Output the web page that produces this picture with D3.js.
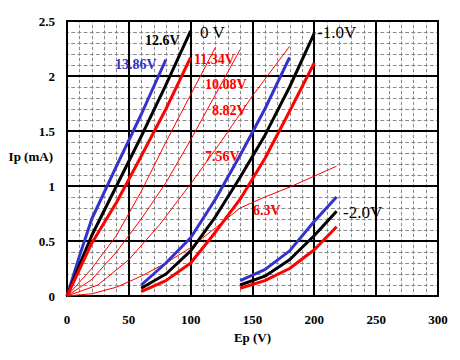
<!DOCTYPE html>
<html>
<head>
<meta charset="utf-8">
<script src="https://cdn.jsdelivr.net/npm/d3@7"></script>
<style>
  html, body { margin: 0; padding: 0; background: #fff; }
  svg { display: block; }
  text { font-family: "Liberation Serif", "Times New Roman", serif; }
</style>
</head>
<body>
<svg id="chart" width="460" height="360"></svg>
<script>
// ---- data ----
const xTicks = [0, 50, 100, 150, 200, 250, 300];
const yTicks = [0, 0.5, 1, 1.5, 2, 2.5];
const yTickLabels = ["0", "0.5", "1", "1.5", "2", "2.5"];

// grid bias 0 V
const ep0Blue = [0, 10, 20, 40, 60, 80];
const ip0Blue = [0, 0.36, 0.70, 1.18, 1.65, 2.15];
const ep0Black = [0, 10, 20, 40, 60, 80, 100];
const ip0Black = [0, 0.28, 0.55, 1.00, 1.45, 1.92, 2.41];
const ep0Red = [0, 10, 20, 40, 60, 80, 100];
const ip0Red = [0, 0.24, 0.48, 0.85, 1.27, 1.70, 2.17];

// grid bias -1.0 V
const ep1Blue = [60, 80, 100, 120, 140, 160, 180];
const ip1Blue = [0.10, 0.30, 0.53, 0.88, 1.28, 1.70, 2.17];
const ep1Black = [60, 80, 100, 120, 140, 160, 180, 200];
const ip1Black = [0.07, 0.20, 0.41, 0.72, 1.08, 1.46, 1.90, 2.39];
const ep1Red = [60, 80, 100, 120, 140, 160, 180, 200];
const ip1Red = [0.04, 0.14, 0.30, 0.58, 0.88, 1.25, 1.68, 2.12];

// grid bias -2.0 V
const ep2 = [140, 160, 180, 200, 218];
const ip2Blue = [0.14, 0.24, 0.41, 0.68, 0.90];
const ip2Black = [0.10, 0.18, 0.33, 0.55, 0.77];
const ip2Red = [0.07, 0.14, 0.25, 0.42, 0.63];

// reduced heater voltages, grid 0 V (thin red)
const epH1008 = [0, 20, 40, 60, 80, 100, 120];
const ipH1008 = [0, 0.25, 0.55, 0.95, 1.40, 1.83, 2.26];
const epH882 = [0, 20, 40, 60, 80, 100, 120, 140];
const ipH882 = [0, 0.15, 0.40, 0.70, 1.03, 1.42, 1.83, 2.24];
const epH756 = [0, 25, 50, 75, 100, 125, 150, 180];
const ipH756 = [0, 0.10, 0.33, 0.65, 1.02, 1.41, 1.82, 2.27];
const epH63 = [0, 20, 40, 60, 80, 100, 120, 140, 160, 180, 200, 218];
const ipH63 = [0, 0.02, 0.08, 0.18, 0.30, 0.44, 0.62, 0.80, 0.90, 0.99, 1.09, 1.18];

const BLUE = "#3333cc", RED = "#ff0000", BLACK = "#000000";

const thickSeries = [
  { ep: ep0Blue, ip: ip0Blue, color: BLUE },
  { ep: ep0Black, ip: ip0Black, color: BLACK },
  { ep: ep0Red, ip: ip0Red, color: RED },
  { ep: ep1Blue, ip: ip1Blue, color: BLUE },
  { ep: ep1Black, ip: ip1Black, color: BLACK },
  { ep: ep1Red, ip: ip1Red, color: RED },
  { ep: ep2, ip: ip2Blue, color: BLUE },
  { ep: ep2, ip: ip2Black, color: BLACK },
  { ep: ep2, ip: ip2Red, color: RED }
];
const thinSeries = [
  { ep: epH1008, ip: ipH1008 },
  { ep: epH882, ip: ipH882 },
  { ep: epH756, ip: ipH756 },
  { ep: epH63, ip: ipH63 }
];

// ---- layout ----
const svg = d3.select("#chart");
const margin = { left: 67, top: 21, right: 22, bottom: 64 };
const W = 460, H = 360;
const x = d3.scaleLinear().domain([0, 300]).range([margin.left, W - margin.right]);
const y = d3.scaleLinear().domain([0, 2.5]).range([H - margin.bottom, margin.top]);
const x0 = x(0), x1 = x(300), y0 = y(0), y1 = y(2.5);
const snap = v => Math.round(v) + 0.5;

// minor grid (dashed gray)
const minorX = d3.range(10, 300, 10).filter(v => v % 50 !== 0);
const minorY = d3.range(1, 25).map(v => v / 10).filter((v, i) => (i + 1) % 5 !== 0);
const cellW = x(10) - x(0), cellH = y(0) - y(0.1);
const g = svg.append("g");
g.selectAll("line.mx").data(minorX).join("line")
  .attr("x1", d => snap(x(d))).attr("x2", d => snap(x(d)))
  .attr("y1", y1).attr("y2", y0)
  .attr("stroke", "#8a8a8a").attr("stroke-width", 1)
  .attr("stroke-dasharray", `${cellH / 2 * 0.62} ${cellH / 2 * 0.38}`)
  .attr("stroke-dashoffset", cellH / 2 * 0.31);
g.selectAll("line.my").data(minorY).join("line")
  .attr("x1", x0).attr("x2", x1)
  .attr("y1", d => snap(y(d))).attr("y2", d => snap(y(d)))
  .attr("stroke", "#8a8a8a").attr("stroke-width", 1)
  .attr("stroke-dasharray", `${cellW / 2 * 0.62} ${cellW / 2 * 0.38}`)
  .attr("stroke-dashoffset", cellW / 2 * 0.31);

// major grid (solid black)
g.selectAll("line.Mx").data(xTicks).join("line")
  .attr("x1", d => Math.round(x(d))).attr("x2", d => Math.round(x(d)))
  .attr("y1", y1 - 1).attr("y2", y0 + 1)
  .attr("stroke", "#000").attr("stroke-width", 2);
g.selectAll("line.My").data(yTicks).join("line")
  .attr("x1", x0 - 1).attr("x2", x1 + 1)
  .attr("y1", d => Math.round(y(d))).attr("y2", d => Math.round(y(d)))
  .attr("stroke", "#000").attr("stroke-width", 2);

// tick labels
svg.append("g").selectAll("text").data(xTicks).join("text")
  .attr("x", d => x(d)).attr("y", 324)
  .attr("text-anchor", "middle").attr("font-size", 13).attr("font-weight", "bold")
  .text(d => d);
svg.append("g").selectAll("text").data(yTicks).join("text")
  .attr("x", 55).attr("y", d => y(d) + 4.5)
  .attr("text-anchor", "end").attr("font-size", 13).attr("font-weight", "bold")
  .text((d, i) => yTickLabels[i]);
svg.append("text").attr("x", 53).attr("y", 161).attr("text-anchor", "end")
  .attr("font-size", 13).attr("font-weight", "bold").text("Ip (mA)");
svg.append("text").attr("x", x(150)).attr("y", 342).attr("text-anchor", "middle")
  .attr("font-size", 13).attr("font-weight", "bold").text("Ep (V)");

// curves
const line = d3.line().x(d => x(d[0])).y(d => y(d[1]));
const toPts = s => s.ep.map((e, i) => [e, s.ip[i]]);
svg.append("g").selectAll("path").data(thinSeries).join("path")
  .attr("d", d => line(toPts(d)))
  .attr("fill", "none").attr("stroke", RED).attr("stroke-width", 1);
svg.append("g").selectAll("path").data(thickSeries).join("path")
  .attr("d", d => line(toPts(d)))
  .attr("fill", "none").attr("stroke", d => d.color).attr("stroke-width", 3)
  .attr("stroke-linejoin", "round");

// labels
const labels = [
  { t: "0 V", x: 200, y: 38, c: BLACK, s: 17, w: "normal" },
  { t: "-1.0V", x: 317, y: 38, c: BLACK, s: 17, w: "normal" },
  { t: "-2.0V", x: 343, y: 218, c: BLACK, s: 17, w: "normal" },
  { t: "12.6V", x: 145, y: 45, c: BLACK, s: 14, w: "bold" },
  { t: "13.86V", x: 115, y: 69, c: BLUE, s: 14, w: "bold" },
  { t: "11.34V", x: 194, y: 64, c: RED, s: 14, w: "bold" },
  { t: "10.08V", x: 205, y: 89, c: RED, s: 14, w: "bold" },
  { t: "8.82V", x: 212, y: 115, c: RED, s: 14, w: "bold" },
  { t: "7.56V", x: 205, y: 161, c: RED, s: 14, w: "bold" },
  { t: "6.3V", x: 253, y: 215, c: RED, s: 14, w: "bold" }
];
svg.append("g").selectAll("text").data(labels).join("text")
  .attr("x", d => d.x).attr("y", d => d.y)
  .attr("fill", d => d.c).attr("font-size", d => d.s).attr("font-weight", d => d.w)
  .text(d => d.t);
</script>
</body>
</html>
